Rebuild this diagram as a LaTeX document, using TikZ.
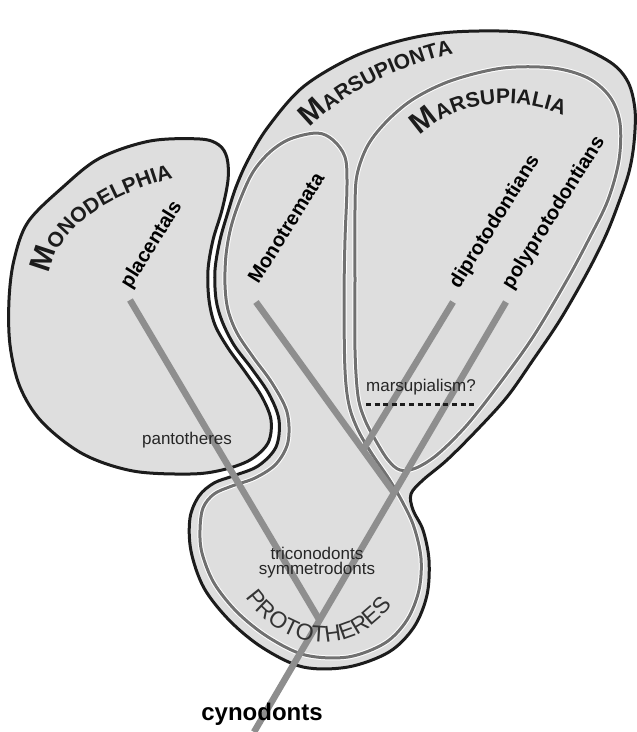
\documentclass[tikz,border=0pt]{standalone}
\usepackage{fontspec}
\setmainfont{Liberation Sans}
\usetikzlibrary{calc,positioning,decorations.text}
\definecolor{blobgray}  {RGB}{222,222,222}
\definecolor{rimgray}   {RGB}{112,112,112}
\definecolor{branchgray}{RGB}{142,142,142}
\definecolor{inkblack}  {RGB}{28,28,28}
\newcommand\titleM{\fontsize{30}{30}\selectfont\bfseries\color{inkblack}}
\newcommand\titleS{\fontsize{21}{21}\selectfont\bfseries\color{inkblack}}
\newcommand\protoF{\fontsize{23}{23}\selectfont\color{black!80}}
\tikzset{
  blob/.style    ={draw=inkblack, line width=3pt, fill=blobgray},
  rim/.style     ={draw=rimgray, line width=3pt,
                   preaction={draw=white, line width=5pt}},
  branch/.style  ={draw=branchgray, line width=6.5pt},
  taxon/.style   ={font=\fontsize{20}{22}\selectfont\bfseries,
                   inner sep=0pt, rotate=58},
  minor/.style   ={font=\fontsize{17}{19}\selectfont, inner sep=0pt,
                   text=black!85},
  dashmark/.style={draw=inkblack, line width=3pt,
                   dash pattern=on 5pt off 3.6pt},
}
\begin{document}
\begin{tikzpicture}[x=1pt,y=1pt]
  \path[use as bounding box, fill=white] (0,0) rectangle (637,-732);
  %% outer groups
  \draw[blob] plot[smooth cycle, tension=0.55] coordinates {
    (63,-187) (100,-158) (150,-141) (200,-139) (219,-145) (227,-158)
    (228,-180) (222,-210) (213,-240) (208,-270) (209,-300) (215,-325)
    (228,-348) (246,-373) (262,-397) (271,-420) (268,-443) (250,-460)
    (222,-470) (190,-474) (133,-471) (83,-454) (42,-422) (20,-387)
    (10,-345) (9,-300) (14,-260) (28,-222)};
  \draw[blob] plot[smooth cycle, tension=0.55] coordinates {
    (268,-127) (303,-87) (353,-57) (403,-40) (453,-32) (520,-32)
    (570,-43) (610,-62) (628,-82) (635,-110) (634,-143) (629,-172)
    (619,-202) (606,-235) (587,-273) (560,-320) (533,-360) (507,-397)
    (477,-430) (447,-460) (423,-480) (411,-494) (413,-510) (423,-530)
    (429,-560) (427,-595) (414,-627) (389,-652) (348,-667) (303,-667)
    (263,-648) (230,-621) (204,-588) (191,-551) (190,-518) (199,-496)
    (214,-483) (233,-476) (258,-466) (276,-447) (279,-420) (269,-394)
    (252,-369) (234,-345) (222,-321) (216,-299) (215,-270) (220,-240)
    (228,-212) (236,-187) (248,-160)};
  %% inner groups
  \draw[rim] plot[smooth cycle, tension=0.55] coordinates {
    (317,-133) (333,-140) (345,-157) (347,-185) (345,-240) (344,-300)
    (345,-370) (349,-405) (358,-430) (372,-454) (389,-479) (403,-503)
    (414,-527) (421,-558) (419,-590) (407,-620) (385,-643) (348,-657)
    (305,-655) (268,-637) (237,-612) (214,-583) (202,-553) (200,-530)
    (203,-508) (214,-494) (232,-486) (255,-478) (276,-464) (288,-442)
    (287,-412) (272,-383) (253,-357) (237,-333) (228,-310) (225,-285)
    (226,-255) (231,-227) (240,-200) (253,-172) (270,-152) (290,-139)};
  \draw[rim] plot[smooth cycle, tension=0.55] coordinates {
    (355,-210) (357,-175) (368,-145) (388,-120) (415,-98) (453,-80)
    (503,-68) (553,-68) (588,-78) (610,-97) (620,-123) (619,-160)
    (608,-200) (590,-237) (567,-280) (533,-337) (500,-383) (467,-425)
    (438,-454) (416,-468) (400,-470) (388,-460) (376,-441) (365,-420)
    (358,-396) (355,-350) (355,-280)};
  %% tree
  \coordinate (root) at (254,-732);
  \coordinate (tpo) at (506,-302);
  \coordinate (tdi) at (453,-302);
  \coordinate (tmo) at (256,-302);
  \coordinate (tpl) at (130,-300);
  \coordinate (jpl) at ($(root)!0.26!(tpo)$);
  \coordinate (jmo) at ($(root)!0.556!(tpo)$);
  \coordinate (jdi) at ($(tmo)!0.775!(jmo)$);
  \draw[branch] (tpl) -- (jpl);
  \draw[branch] (tmo) -- (jmo);
  \draw[branch] (tdi) -- (jdi);
  \draw[branch] (root) -- (tpo);
  %% labels
  \node[taxon] (placentals) at (152,-245) {placentals};
  \node[taxon] (monotremata) at (286,-228) {Monotremata};
  \node[taxon] (diproto) at (495,-222) {diprotodontians};
  \node[taxon] (polyproto) at (554,-213) {polyprotodontians};
  \node[minor] (panto) at (187,-440) {pantotheres};
  \node[minor] (tric) at (317,-553) {triconodonts};
  \node[minor, below=3pt of tric] (symm) {symmetrodonts};
  \node[minor] (marsup) at (421,-387) {marsupialism?};
  \draw[dashmark] ([yshift=-9pt]marsup.south west)
    -- ([yshift=-9pt]marsup.south east);
  \node[font=\fontsize{24}{26}\selectfont\bfseries, inner sep=0pt]
    (cyno) at (262,-714) {cynodonts};
  \path[decorate, decoration={text along path,
      text={|\titleM|M|\titleS|ONODELPHIA}}]
    (50,-274) .. controls (56,-232) and (100,-195) .. (188,-174);
  \path[decorate, decoration={text along path,
      text={|\titleM|M|\titleS|ARSUPIONTA}}]
    (310,-128) .. controls (345,-92) and (400,-62) .. (485,-47);
  \path[decorate, decoration={text along path,
      text={|\titleM|M|\titleS|ARSUPIALIA}}]
    (420,-136) .. controls (455,-100) and (520,-92) .. (578,-122);
  \path[decorate, decoration={text along path, text align=center,
      text={|\protoF|PROTOTHERES}}]
    (238,-586) .. controls (276,-652) and (354,-667) .. (400,-594);
\end{tikzpicture}
\end{document}
